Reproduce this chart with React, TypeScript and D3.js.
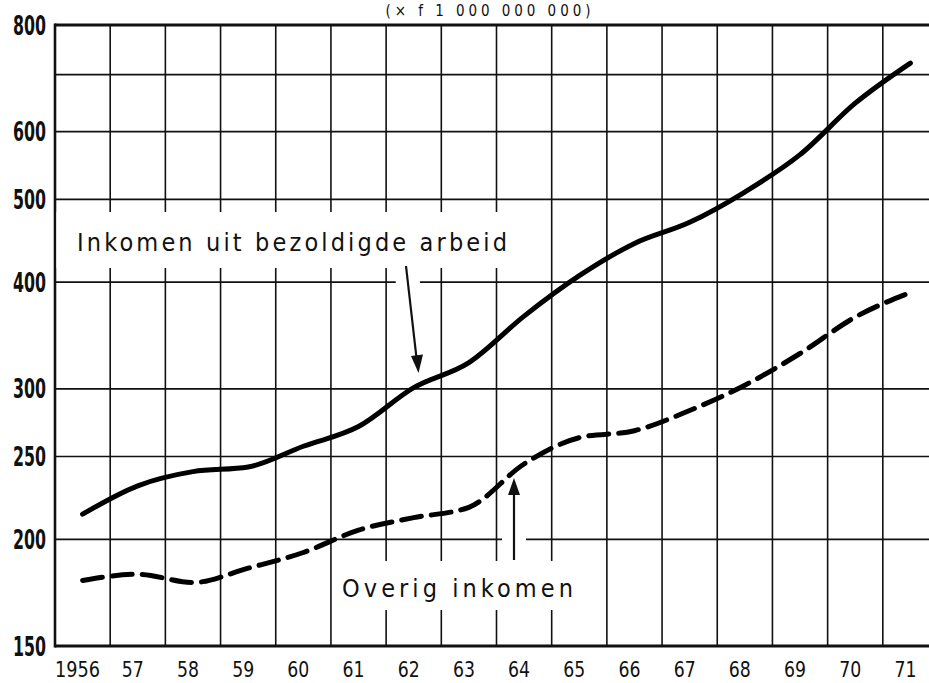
import React from "react";
import * as d3 from "d3";

const years = [1956, 1957, 1958, 1959, 1960, 1961, 1962, 1963, 1964, 1965, 1966, 1967, 1968, 1969, 1970, 1971];
const yearLabels = ["1956", "57", "58", "59", "60", "61", "62", "63", "64", "65", "66", "67", "68", "69", "70", "71"];
const arbeid = [214, 231, 240, 243, 257, 271, 301, 322, 365, 407, 444, 470, 510, 564, 648, 722];
const overig = [179, 182, 178, 185, 193, 205, 212, 218, 245, 263, 268, 283, 303, 330, 364, 389];
const gridValues = [150, 200, 250, 300, 400, 500, 600, 700, 800];
const labelValues = [150, 200, 250, 300, 400, 500, 600, 800];
const titleText = "(× f 1 000 000 000)";
const arbeidLabel = "Inkomen uit bezoldigde arbeid";
const overigLabel = "Overig inkomen";

const W = 929;
const H = 683;
const LEFT = 55;
const RIGHT = 938;
const TOP = 25;
const BOTTOM = 646;

export default function App() {
  const x = d3.scaleBand<number>().domain(years).range([LEFT, RIGHT]).paddingInner(0).paddingOuter(0);
  const y = d3.scaleLog().domain([150, 800]).range([BOTTOM, TOP]);
  const cx = (d: number) => (x(d) as number) + x.bandwidth() / 2;

  const line = d3
    .line<number>()
    .x((_, i) => cx(years[i]))
    .y((v) => y(v))
    .curve(d3.curveMonotoneX);

  const font = "'DejaVu Sans Condensed', 'DejaVu Sans', sans-serif";
  const boundaries = years.slice(1).map((d) => x(d) as number);

  return (
    <svg
      width={W}
      height={H}
      viewBox={`0 0 ${W} ${H}`}
      style={{ position: "absolute", left: 0, top: 0, background: "#fff" }}
    >
      <rect x={0} y={0} width={W} height={H} fill="#fff" />
      {/* title */}
      <text x={488} y={16} textAnchor="middle" fontFamily={font} fontSize={15} fill="#111" textLength={205} lengthAdjust="spacing">
        {titleText}
      </text>

      {/* horizontal gridlines */}
      {gridValues.map((v) => (
        <line
          key={"h" + v}
          x1={LEFT}
          x2={RIGHT}
          y1={y(v)}
          y2={y(v)}
          stroke="#111"
          strokeWidth={v === 800 || v === 150 ? 3.2 : 1.7}
        />
      ))}
      {/* vertical gridlines at year boundaries */}
      {boundaries.map((bx, i) => (
        <line key={"v" + i} x1={bx} x2={bx} y1={TOP} y2={BOTTOM} stroke="#111" strokeWidth={1.6} />
      ))}
      <line x1={LEFT} x2={LEFT} y1={TOP - 1.5} y2={BOTTOM + 1.5} stroke="#111" strokeWidth={2.6} />

      {/* label background masks */}
      <rect x={LEFT + 1.5} y={212} width={456} height={56} fill="#fff" />
      <rect x={333} y={561} width={262} height={49} fill="#fff" />
      {/* arrow halos */}
      <line x1={406} y1={266} x2={418} y2={370} stroke="#fff" strokeWidth={24} />
      <line x1={514} y1={560} x2={514} y2={480} stroke="#fff" strokeWidth={24} />

      {/* data lines */}
      <path d={line(arbeid) || ""} fill="none" stroke="#000" strokeWidth={5} strokeLinecap="round" strokeLinejoin="round" />
      <path
        d={line(overig) || ""}
        fill="none"
        stroke="#000"
        strokeWidth={5}
        strokeLinecap="round"
        strokeLinejoin="round"
        strokeDasharray="20 10"
      />

      {/* annotations */}
      <text x={77} y={251} fontFamily={font} fontSize={25} fill="#111" textLength={430} lengthAdjust="spacing">
        {arbeidLabel}
      </text>
      <line x1={406} y1={266} x2={416.5} y2={358} stroke="#111" strokeWidth={2.2} />
      <path d="M 418.5 373 L 411 356 L 423 354.6 Z" fill="#111" />

      <text x={342} y={597} fontFamily={font} fontSize={25} fill="#111" textLength={231} lengthAdjust="spacing">
        {overigLabel}
      </text>
      <line x1={514} y1={560} x2={514} y2={492} stroke="#111" strokeWidth={2.2} />
      <path d="M 514 478 L 508 495 L 520 495 Z" fill="#111" />

      {/* y labels */}
      {labelValues.map((v) => (
        <text
          key={"yl" + v}
          x={46}
          y={y(v) + 9.5}
          textAnchor="end"
          fontFamily={font}
          fontWeight="bold"
          fontSize={26}
          fill="#111"
          textLength={33}
          lengthAdjust="spacingAndGlyphs"
        >
          {String(v)}
        </text>
      ))}

      {/* x labels */}
      {years.map((d, i) => (
        <text
          key={"xl" + d}
          x={cx(d) - 5}
          y={677}
          textAnchor="middle"
          fontFamily={font}
          fontSize={22}
          fill="#111"
          textLength={yearLabels[i].length === 4 ? 45 : 22}
          lengthAdjust="spacingAndGlyphs"
        >
          {yearLabels[i]}
        </text>
      ))}
    </svg>
  );
}
